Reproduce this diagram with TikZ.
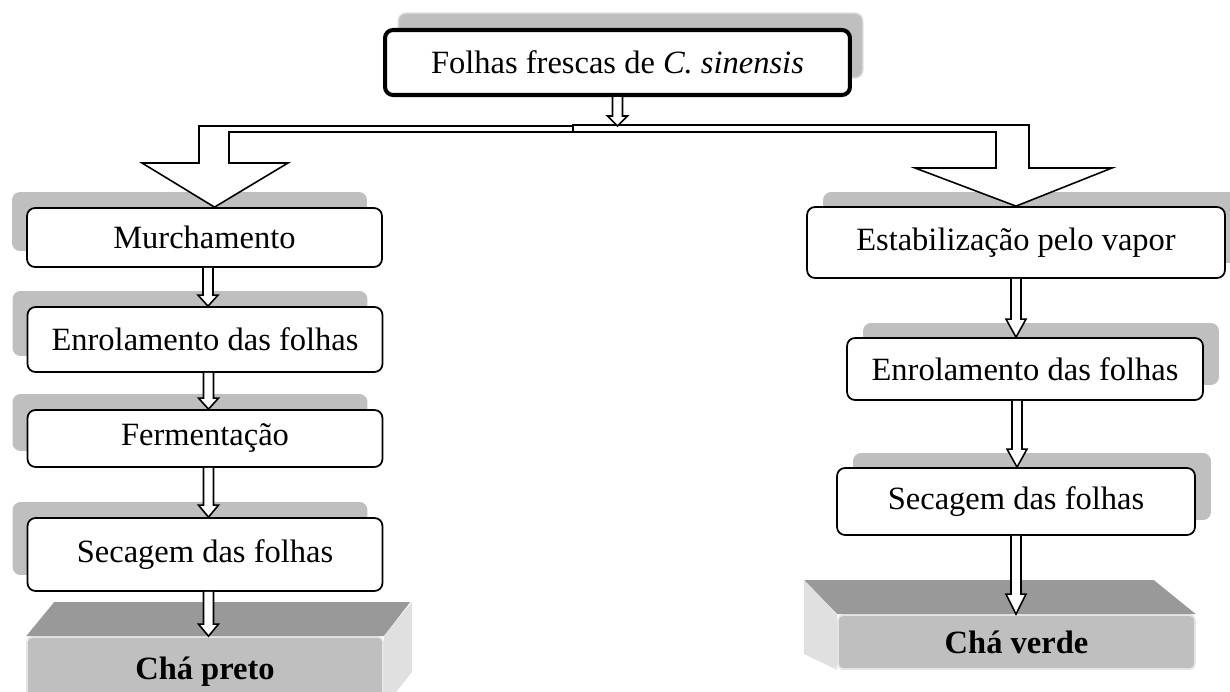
\documentclass[tikz,border=0pt]{standalone}
\usepackage{fontspec}
\setmainfont{Liberation Serif}
\usepackage{tikz}
\usetikzlibrary{calc,shadows}
\tikzstyle{every node}=[font=\fontsize{18.5}{22}\selectfont, inner sep=0pt]
\tikzstyle{stepbox}=[draw=black, line width=1pt, rounded corners=0.16cm, fill=white, minimum width=7.1cm, align=center]
\tikzstyle{leftshadow}=[general shadow={fill=black!25, shadow xshift=-0.3cm, shadow yshift=0.32cm}]
\tikzstyle{rightshadow}=[general shadow={fill=black!25, shadow xshift=0.32cm, shadow yshift=0.3cm}]
\tikzstyle{bigarrow}=[draw=black, line width=0.9pt, fill=white, line join=miter]
\tikzstyle{flowarrow}=[draw=black, line width=0.9pt, fill=white]
\tikzstyle{teabox}=[fill=black!25, draw=black!10, line width=1pt, rounded corners=0.1cm, font=\fontsize{18.5}{22}\selectfont\bfseries]

% hollow arrow: from, to, x offset (px), head length (px)
\newcommand{\hollowarrow}[4]{%
  \draw[flowarrow] let \p1=($(#1)+(#3,0)$), \p2=(#2) in
    (\x1-0.1cm,\y1) -- (\x1-0.1cm,\y2+#4*0.02cm) -- (\x1-0.2cm,\y2+#4*0.02cm)
    -- (\x1,\y2) -- (\x1+0.2cm,\y2+#4*0.02cm) -- (\x1+0.1cm,\y2+#4*0.02cm) -- (\x1+0.1cm,\y1);
}

\begin{document}
\begin{tikzpicture}[x=0.02cm, y=-0.02cm]
\useasboundingbox (0,0) rectangle (1230,692);

% material de partida
\node[stepbox, line width=2.3pt, minimum width=9.3cm, minimum height=1.3cm,
      general shadow={fill=black!25, draw=black!12, line width=0.8pt, shadow xshift=0.26cm, shadow yshift=0.34cm}]
      (folhas) at (617.5,62.5) {Folhas frescas de \textit{C. sinensis}};

% cha preto
\node[stepbox, leftshadow, minimum height=1.18cm] (murch) at (204.5,237.5) {Murchamento};
\node[stepbox, leftshadow, minimum height=1.3cm] (enrolL) at (205,339.5) {Enrolamento das folhas};
\node[stepbox, leftshadow, minimum height=1.14cm] (ferm) at (205,438.5) {Fermentação};
\node[stepbox, leftshadow, minimum height=1.46cm] (secL) at (205,554.5) {Secagem das folhas};

% cha verde
\node[stepbox, rightshadow, minimum width=8.36cm, minimum height=1.42cm] (estab) at (1016,242.5) {Estabilização pelo vapor};
\node[stepbox, rightshadow, minimum width=7.12cm, minimum height=1.24cm] (enrolR) at (1025,369) {Enrolamento das folhas};
\node[stepbox, rightshadow, minimum width=7.16cm, minimum height=1.34cm] (secR) at (1016,501.5) {Secagem das folhas};

% produtos
\node[teabox, minimum width=7.12cm, minimum height=1.4cm] (preto) at (205,672) {Chá preto};
\fill[black!40] (preto.north west) -- ++(28,-34) -- ++(356,0) -- (preto.north east) -- cycle;
\fill[black!12] (preto.north east) -- ++(28,-34) -- ++(0,70) -- (preto.south east) -- cycle;

\node[teabox, minimum width=7.14cm, minimum height=1.08cm] (verde) at (1016.5,642) {Chá verde};
\fill[black!40] (verde.north west) -- ++(-33,-34) -- ($(verde.north east)+(-42,-34)$) -- (verde.north east) -- cycle;
\fill[black!12] (verde.north west) -- ++(-33,-34) -- ++(0,74) -- (verde.south west) -- cycle;

% setas grandes
\coordinate (split) at (617,126);
\draw[bigarrow] (573,126) -- (199,126) -- (199,163) -- (142,163) -- ($(murch.north)+(10,0)$)
  -- (288,163) -- (229,163) -- (229,132) -- (573,132) -- cycle;
\draw[bigarrow] (573,125) -- (1029,125) -- (1029,168) -- (1112,168) -- (estab.north)
  -- (915,168) -- (996,168) -- (996,132) -- (573,132) -- cycle;

% setas
\hollowarrow{folhas.south}{split}{0}{10}
\hollowarrow{murch.south}{enrolL.north}{3.5}{11}
\hollowarrow{enrolL.south}{ferm.north}{3.5}{11}
\hollowarrow{ferm.south}{secL.north}{3.5}{12}
\hollowarrow{secL.south}{preto.north}{3.5}{12}
\hollowarrow{estab.south}{enrolR.north}{0}{18}
\hollowarrow{enrolR.south}{secR.north}{-8}{18}
\hollowarrow{secR.south}{verde.north}{0}{20}
\end{tikzpicture}
\end{document}
